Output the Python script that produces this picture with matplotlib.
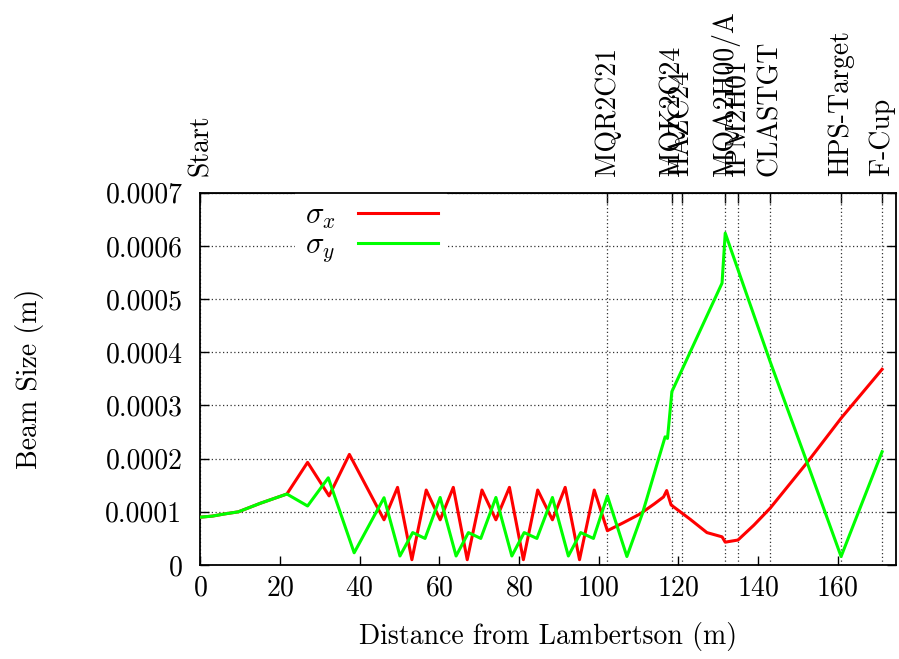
import numpy as np
import matplotlib
matplotlib.use("Agg")
import matplotlib.pyplot as plt
from matplotlib.ticker import FuncFormatter

plt.rcParams['font.family'] = 'serif'
plt.rcParams['font.serif'] = ['cmr10']
plt.rcParams['mathtext.fontset'] = 'cm'
plt.rcParams['axes.formatter.use_mathtext'] = True

# Beamline element positions (m) and names for the top axis
elem_pos = [0, 102.2, 118.4, 120.9, 131.8, 135.0, 143.1, 160.9, 171.2]
elem_names = ['Start', 'MQR2C21', 'MQK2C24', 'HAZC24', 'MQA2H00/A', 'IPM2H01',
              'CLASTGT', 'HPS-Target', 'F-Cup']

# sigma_x (red), beam size in units of 1e-4 m
sx_s = [0, 3, 6, 9.5, 15, 21.7, 26.9, 32.3, 37.4, 46.1, 49.5, 53.1, 56.7, 60.2,
        63.5, 67.0, 70.7, 74.2, 77.6, 81.1, 84.7, 88.4, 91.6, 95.2, 98.9, 102.2,
        106.2, 110.4, 114.0, 116.3, 117.1, 118.2, 123.0, 127.2, 131.0, 131.8,
        135.0, 139.0, 143.1, 152.3, 160.9, 171.2]
sx_val = [0.90, 0.92, 0.96, 1.00, 1.16, 1.335, 1.93, 1.30, 2.08, 0.85, 1.46, 0.10,
          1.41, 0.85, 1.46, 0.10, 1.41, 0.85, 1.46, 0.10, 1.41, 0.85, 1.46, 0.10,
          1.41, 0.645, 0.795, 0.96, 1.15, 1.28, 1.40, 1.13, 0.86, 0.61, 0.53, 0.43,
          0.47, 0.75, 1.07, 1.92, 2.76, 3.68]

# sigma_y (green)
sy_s = [0, 3, 6, 9.5, 15, 21.7, 26.9, 32.1, 38.6, 46.1, 50.1, 53.3, 56.4, 60.2,
        64.2, 67.3, 70.4, 74.2, 78.2, 81.3, 84.5, 88.4, 92.4, 95.5, 98.7, 102.2,
        107.1, 111.0, 116.7, 117.3, 118.4, 131.0, 131.8, 143.1, 152.3, 160.9, 171.2]
sy_val = [0.90, 0.92, 0.96, 1.00, 1.16, 1.335, 1.11, 1.64, 0.23, 1.265, 0.17, 0.61,
          0.50, 1.27, 0.17, 0.61, 0.50, 1.27, 0.17, 0.61, 0.50, 1.27, 0.17, 0.61,
          0.50, 1.30, 0.16, 0.97, 2.41, 2.38, 3.26, 5.30, 6.24, 3.82, 1.94, 0.16, 2.13]

y_ticks = [0, 0.0001, 0.0002, 0.0003, 0.0004, 0.0005, 0.0006, 0.0007]
x_ticks = [0, 20, 40, 60, 80, 100, 120, 140, 160]

fig = plt.figure(figsize=(8.99, 6.59), dpi=100)
ax = fig.add_axes([0.223, 0.1426, 0.7737, 0.565])

dot = (0, (1, 2))
for p in elem_pos:
    ax.axvline(p, color='#333333', lw=0.9, linestyle=dot, zorder=1)
ax.yaxis.grid(True, color='#333333', lw=0.9, linestyle=dot, zorder=1)

l1, = ax.plot(sx_s, np.array(sx_val) * 1e-4, color='#ff0000', lw=2.2, zorder=3)
l2, = ax.plot(sy_s, np.array(sy_val) * 1e-4, color='#00ff00', lw=2.2, zorder=3)

ax.set_xlim(0, 174.7)
ax.set_ylim(0, 0.0007)
ax.set_xticks(x_ticks)
ax.set_yticks(y_ticks)
ax.yaxis.set_major_formatter(FuncFormatter(lambda v, p: '0' if v == 0 else '%.4f' % v))
ax.tick_params(axis='x', direction='in', length=6.5, width=1, labelsize=20, pad=7,
               top=False)
ax.tick_params(axis='y', direction='in', length=6.5, width=1, labelsize=20, pad=13,
               right=True)
for sp in ax.spines.values():
    sp.set_linewidth(1.3)

top = ax.secondary_xaxis('top')
top.set_xticks(elem_pos, labels=elem_names, rotation=90)
top.tick_params(direction='in', length=7, width=1, labelsize=20, pad=12)

ax.set_xlabel('Distance from Lambertson (m)', fontsize=20)
ax.xaxis.set_label_coords(0.5, -0.152)
ax.set_ylabel('Beam Size (m)', fontsize=20)
ax.yaxis.set_label_coords(-0.225, 0.5)

leg = ax.legend([l1, l2], [r'$\sigma_x$', r'$\sigma_y$'], loc='upper right',
                bbox_to_anchor=(0.354, 0.998), markerfirst=False, fontsize=22,
                handlelength=2.6, handletextpad=0.75, labelspacing=0.02,
                borderpad=0.3, borderaxespad=0, frameon=True, fancybox=False)
leg.get_frame().set_facecolor('white')
leg.get_frame().set_edgecolor('none')
leg.get_frame().set_alpha(1)
leg.set_zorder(2)

fig.savefig('out.png', dpi=100)
